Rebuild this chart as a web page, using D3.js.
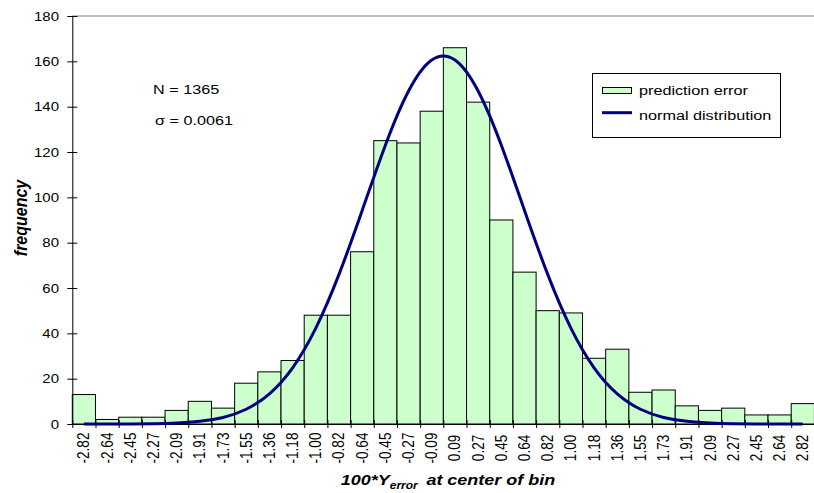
<!DOCTYPE html>
<html>
<head>
<meta charset="utf-8">
<script src="https://cdn.jsdelivr.net/npm/d3@7"></script>
<style>
  html, body { margin: 0; padding: 0; background: #fff; }
  svg { display: block; }
  text { font-family: "Liberation Sans", Arial, sans-serif; fill: #000; }
</style>
</head>
<body>
<svg id="chart" width="814" height="493"></svg>
<script>
// Bin centres of 100*Y_error and observed counts per bin
const binLabels = ["-2.82","-2.64","-2.45","-2.27","-2.09","-1.91","-1.73","-1.55","-1.36","-1.18",
  "-1.00","-0.82","-0.64","-0.45","-0.27","-0.09","0.09","0.27","0.45","0.64","0.82","1.00",
  "1.18","1.36","1.55","1.73","1.91","2.09","2.27","2.45","2.64","2.82"];
const frequency = [13,2,3,3,6,10,7,18,23,28,48,48,76,125,124,138,166,142,90,67,50,49,29,33,14,15,8,6,7,4,4,9];
// Fitted normal distribution at each bin centre (N = 1365, sigma = 0.0061)
const normalFit = [0.004,0.01,0.05,0.16,0.45,1.2,2.9,6.5,13.3,24.8,42.3,66.0,94.2,123.0,146.9,160.6,
  160.6,146.9,123.0,94.2,66.0,42.3,24.8,13.3,6.5,2.9,1.2,0.45,0.16,0.05,0.01,0.004];
const yTicks = [0,20,40,60,80,100,120,140,160,180];
const legendItems = ["prediction error","normal distribution"];
const notes = ["N = 1365","\u03c3 = 0.0061"];

const SX = 1.2; // horizontal stretch of the lettering
const svg = d3.select("#chart");
const plotLeft = 72.3, plotRight = 814.4, plotTop = 16, plotBottom = 424;

const x = d3.scaleBand().domain(binLabels).range([plotLeft, plotRight]).paddingInner(0).paddingOuter(0);
const y = d3.scaleLinear().domain([0, 180]).range([plotBottom, plotTop]);
const edges = d3.scaleLinear().domain([0, binLabels.length]).range([plotLeft, plotRight]);

function label(g, px, py, str, size, anchor, extra) {
  return g.append("text")
    .attr("transform", `translate(${px},${py}) scale(${SX},1)` + (extra || ""))
    .attr("text-anchor", anchor)
    .style("font-size", size + "px")
    .text(str);
}

// top border of plot area
svg.append("line").attr("x1", plotLeft).attr("x2", plotRight).attr("y1", plotTop).attr("y2", plotTop)
  .attr("stroke", "#808080").attr("stroke-width", 1);

// histogram bars
svg.append("g").selectAll("rect").data(frequency).join("rect")
  .attr("x", (d, i) => x(binLabels[i]))
  .attr("y", d => y(d))
  .attr("width", x.bandwidth())
  .attr("height", d => y(0) - y(d))
  .attr("fill", "#ccffcc")
  .attr("stroke", "#000")
  .attr("stroke-width", 1);

// y axis with crossing ticks
const yAxis = svg.append("g").attr("transform", `translate(${plotLeft},0)`)
  .call(d3.axisLeft(y).tickValues(yTicks).tickSizeInner(5).tickSizeOuter(0).tickFormat(""));
yAxis.selectAll(".tick line").attr("x1", 5).attr("stroke", "#000");
yAxis.select(".domain").attr("stroke", "#000");
yTicks.forEach(t => {
  label(svg, 59, y(t) + 4.5, String(t), 12.5, "end");
});

// x axis: ticks at bin edges, labels at bin centres
const xAxis = svg.append("g").attr("transform", `translate(0,${plotBottom})`)
  .call(d3.axisBottom(edges).tickValues(d3.range(0, binLabels.length + 1)).tickSizeInner(4).tickSizeOuter(0).tickFormat(""));
xAxis.selectAll(".tick line").attr("y1", -4).attr("stroke", "#000");
xAxis.select(".domain").attr("stroke", "#000");
binLabels.forEach(l => {
  svg.append("text")
    .attr("transform", `translate(${x(l) + x.bandwidth() / 2 + 5.5},448) scale(${SX},1) rotate(-90)`)
    .attr("text-anchor", "middle")
    .style("font-size", "13.5px")
    .text(l);
});

// normal distribution curve
const line = d3.line()
  .x((d, i) => x(binLabels[i]) + x.bandwidth() / 2)
  .y(d => y(d))
  .curve(d3.curveNatural);
svg.append("path").datum(normalFit)
  .attr("d", line)
  .attr("fill", "none")
  .attr("stroke", "#000080")
  .attr("stroke-width", 3);

// axis titles
svg.append("text")
  .attr("transform", `translate(27,218) scale(${SX},1) rotate(-90)`)
  .attr("text-anchor", "middle")
  .style("font-size", "16px").style("font-weight", "bold").style("font-style", "italic")
  .text("frequency");

const xt = svg.append("text")
  .attr("transform", `translate(448,485) scale(${SX},1)`)
  .attr("text-anchor", "middle")
  .style("font-size", "15px").style("font-weight", "bold").style("font-style", "italic");
xt.append("tspan").text("100*Y");
xt.append("tspan").attr("dy", 4).style("font-size", "10px").text("error");
xt.append("tspan").attr("dy", -4).attr("dx", 3).text(" at center of bin");

// annotations
label(svg, 153, 94, notes[0], 13.5, "start");
label(svg, 155, 125, notes[1], 13.5, "start");

// legend
const lg = svg.append("g");
lg.append("rect").attr("x", 592.5).attr("y", 73.5).attr("width", 188).attr("height", 64)
  .attr("fill", "#fff").attr("stroke", "#000").attr("stroke-width", 1);
lg.append("rect").attr("x", 602.5).attr("y", 87.5).attr("width", 29).attr("height", 6)
  .attr("fill", "#ccffcc").attr("stroke", "#000").attr("stroke-width", 1);
lg.append("line").attr("x1", 602).attr("x2", 632).attr("y1", 112.7).attr("y2", 112.7)
  .attr("stroke", "#000080").attr("stroke-width", 3);
label(lg, 639, 95, legendItems[0], 13.5, "start");
label(lg, 639, 120, legendItems[1], 13.5, "start");
</script>
</body>
</html>
